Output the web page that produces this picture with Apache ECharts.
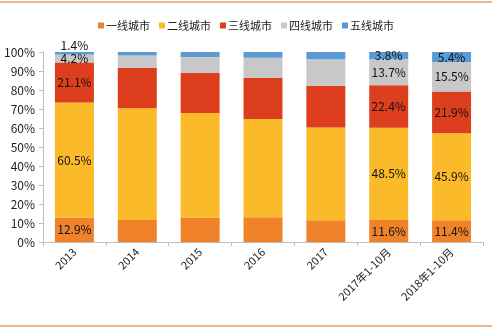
<!DOCTYPE html>
<html><head><meta charset="utf-8">
<script src="https://cdn.jsdelivr.net/npm/echarts@6/dist/echarts.min.js"></script>
<style>html,body{margin:0;padding:0;background:#fff}#c{width:492px;height:331px}</style>
</head><body><div id="c"></div>
<script>
const categories = ['2013','2014','2015','2016','2017','2017年1-10月','2018年1-10月'];
const seriesNames = ['一线城市','二线城市','三线城市','四线城市','五线城市'];
const tier1 = [12.9, 11.6, 12.8, 13.0, 11.4, 11.6, 11.4];
const tier2 = [60.5, 58.8, 55.1, 51.7, 48.8, 48.5, 45.9];
const tier3 = [21.1, 21.2, 21.0, 21.6, 22.1, 22.4, 21.9];
const tier4 = [4.2, 6.5, 8.5, 10.7, 13.9, 13.7, 15.5];
const tier5 = [1.4, 1.9, 2.6, 3.0, 3.8, 3.8, 5.4];
const labeledIdx = [0, 5, 6];
const yTicks = [0,10,20,30,40,50,60,70,80,90,100];

const colors = ['#F0832A','#FBBA2A','#DD3E1D','#C8C8C8','#5B9BD5'];
const all = [tier1, tier2, tier3, tier4, tier5];
const font = '"Noto Sans CJK SC","Noto Sans",sans-serif';

const series = all.map((arr, si) => ({
  name: seriesNames[si], type: 'bar', stack: 'a', barWidth: '62%',
  itemStyle: { color: colors[si] },
  data: arr.map((v, i) => {
    const show = labeledIdx.includes(i);
    return {
      value: v,
      label: {
        show: show,
        position: (si === 4 && i === 0) ? 'top' : 'inside',
        distance: 1,
        formatter: v.toFixed(1) + '%',
        color: '#111', fontSize: 12, fontFamily: font
      }
    };
  })
}));

series.push({
  type: 'line', xAxisIndex: 1, yAxisIndex: 0, data: [], silent: true,
  markLine: {
    symbol: 'none', silent: true, label: { show: false },
    lineStyle: { color: '#EBAE88', type: [5, 4], width: 1.6 },
    data: [[{ coord: [5, 106] }, { coord: [5, 0] }]]
  }
});

const chart = echarts.init(document.getElementById('c'));
chart.setOption({
  animation: false,
  color: colors,
  legend: {
    top: 15, left: 'center', itemWidth: 6, itemHeight: 6, itemGap: 9,
    icon: 'rect',
    data: seriesNames,
    textStyle: { fontSize: 11, color: '#222', fontFamily: font, padding: [0, 0, 0, -3] }
  },
  grid: { left: 43, right: 9, top: 52, bottom: 89 },
  xAxis: [{
    type: 'category', data: categories,
    axisLine: { lineStyle: { color: '#BFBFBF' } },
    axisTick: { show: true, length: 4, lineStyle: { color: '#BFBFBF' } },
    axisLabel: { rotate: 45, fontSize: 11, color: '#222', fontFamily: font, margin: 8, interval: 0 }
  }, {
    type: 'value', min: 0, max: 7, show: false
  }],
  yAxis: {
    type: 'value', min: 0, max: 100, interval: 10,
    axisLine: { show: true, lineStyle: { color: '#BFBFBF' } },
    axisTick: { show: true, length: 4, lineStyle: { color: '#BFBFBF' } },
    splitLine: { show: false },
    axisLabel: { formatter: v => yTicks.includes(v) ? v + '%' : '', fontSize: 12, color: '#222', fontFamily: font, margin: 8 }
  },
  graphic: [
    { type: 'line', shape: { x1: 0, y1: 2, x2: 492, y2: 2 }, style: { stroke: '#E8A06A', lineWidth: 1.5 } },
    { type: 'line', shape: { x1: 0, y1: 326, x2: 492, y2: 326 }, style: { stroke: '#E8A06A', lineWidth: 1.5 } }
  ],
  series: series
});
</script></body></html>
